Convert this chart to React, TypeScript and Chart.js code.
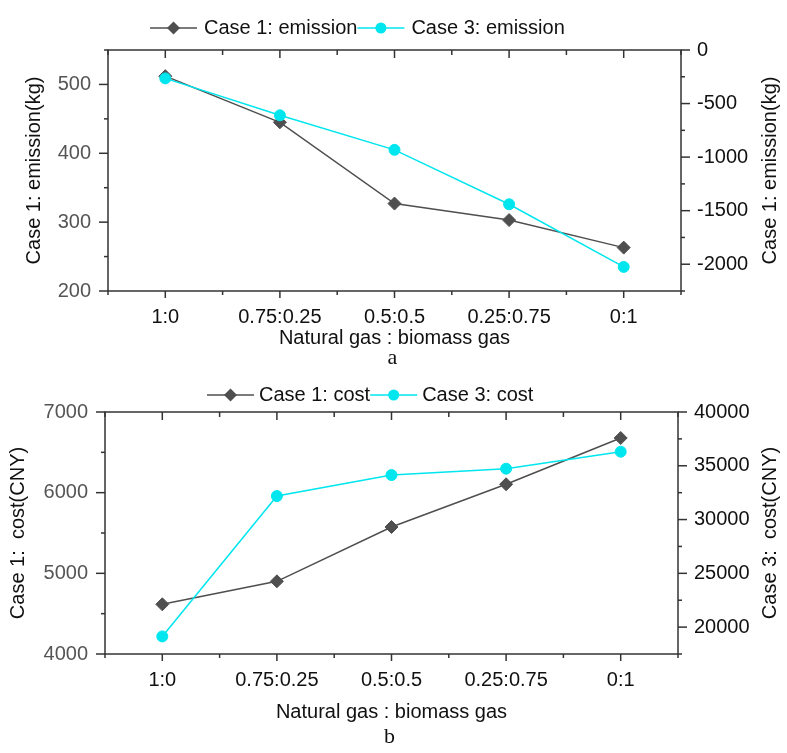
import React, { useEffect, useRef } from 'react';
import { Chart, registerables } from 'chart.js';

Chart.register(...registerables);

// ---------- data ----------
const categories = ['1:0', '0.75:0.25', '0.5:0.5', '0.25:0.75', '0:1'];
const case1Emission = [512, 445, 327, 303, 263];
const case3Emission = [-265, -610, -932, -1440, -2025];
const case1Cost = [4616, 4901, 5574, 6104, 6678];
const case3Cost = [19135, 32186, 34140, 34729, 36310];

const emissionLeftRange = [200, 550, 100];
const emissionRightRange = [-2250, 0, 500];
const costLeftRange = [4000, 7000, 1000];
const costRightRange = [17500, 40000, 5000];

const emissionLeftTicks = [200, 300, 400, 500];
const emissionRightTicks = [-2000, -1500, -1000, -500, 0];
const costLeftTicks = [4000, 5000, 6000, 7000];
const costRightTicks = [20000, 25000, 30000, 35000, 40000];

const xTitle = 'Natural gas : biomass gas';

// ---------- style ----------
const FONT = '"Liberation Sans", Arial, sans-serif';
const SERIF = '"Liberation Serif", "Times New Roman", serif';
const FS = 20;
const AXIS = '#333333';
const GRAY = '#4f4f4f';
const CYAN = '#00e6ef';

type Series = { label: string; data: number[]; color: string; style: 'rectRot' | 'circle'; radius: number; axis: string; order: number };
type Panel = {
  top: number; height: number; padTop: number; padBottom: number;
  leftW: number; rightW: number; xH: number;
  leftTitle: string; leftTitlePad: number; rightTitle: string; rightTitleX: number;
  legendX: number; legendY: number; legendGap: number;
  caption: string; captionY: number;
  series: Series[];
  yl: number[]; yr: number[]; ylTicks: number[]; yrTicks: number[];
};

const panels: Panel[] = [
  {
    top: 0, height: 370, padTop: 50, padBottom: 20, leftW: 108, rightW: 106, xH: 59,
    leftTitle: 'Case 1: emission(kg)', leftTitlePad: 22, rightTitle: 'Case 1: emission(kg)', rightTitleX: 770,
    legendX: 150, legendY: 28, legendGap: 7,
    caption: 'a', captionY: 364,
    series: [
      { label: 'Case 1: emission', data: case1Emission, color: GRAY, style: 'rectRot', radius: 6.5, axis: 'yL', order: 1 },
      { label: 'Case 3: emission', data: case3Emission, color: CYAN, style: 'circle', radius: 5.5, axis: 'yR', order: 0 },
    ],
    yl: emissionLeftRange, yr: emissionRightRange, ylTicks: emissionLeftTicks, yrTicks: emissionRightTicks,
  },
  {
    top: 370, height: 383, padTop: 42, padBottom: 29, leftW: 105, rightW: 109, xH: 70,
    leftTitle: 'Case 1:  cost(CNY)', leftTitlePad: 6, rightTitle: 'Case 3:  cost(CNY)', rightTitleX: 770,
    legendX: 207, legendY: 25, legendGap: 5,
    caption: 'b', captionY: 373,
    series: [
      { label: 'Case 1: cost', data: case1Cost, color: GRAY, style: 'rectRot', radius: 6.5, axis: 'yL', order: 1 },
      { label: 'Case 3: cost', data: case3Cost, color: CYAN, style: 'circle', radius: 5.5, axis: 'yR', order: 0 },
    ],
    yl: costLeftRange, yr: costRightRange, ylTicks: costLeftTicks, yrTicks: costRightTicks,
  },
];

function drawMarker(ctx: CanvasRenderingContext2D, s: Series, x: number, y: number) {
  ctx.fillStyle = s.color;
  ctx.beginPath();
  if (s.style === 'circle') {
    ctx.arc(x, y, s.radius, 0, Math.PI * 2);
  } else {
    const r = s.radius;
    ctx.moveTo(x, y - r);
    ctx.lineTo(x + r, y);
    ctx.lineTo(x, y + r);
    ctx.lineTo(x - r, y);
    ctx.closePath();
  }
  ctx.fill();
}

function makeDecor(p: Panel) {
  return {
    id: 'decor',
    afterDraw(chart: any) {
      const ctx: CanvasRenderingContext2D = chart.ctx;
      const { left, right, top, bottom } = chart.chartArea;
      const xs = chart.scales.x, yl = chart.scales.yL, yr = chart.scales.yR;
      ctx.save();
      ctx.strokeStyle = AXIS;
      ctx.lineWidth = 1.5;
      ctx.strokeRect(left, top, right - left, bottom - top);
      const line = (x1: number, y1: number, x2: number, y2: number) => {
        ctx.beginPath(); ctx.moveTo(x1, y1); ctx.lineTo(x2, y2); ctx.stroke();
      };
      const n = categories.length;
      for (let i = 0; i < n; i++) {
        const px = xs.getPixelForValue(i);
        line(px, bottom, px, bottom + 7);
        line(px, top, px, top + 8);
      }
      for (let i = 0; i <= n; i++) {
        const px = xs.getPixelForValue(i - 0.5);
        line(px, bottom, px, bottom + 4);
        line(px, top, px, top + 5);
      }
      const yTicks = (sc: any, dir: number, edge: number, step: number) => {
        sc.ticks.forEach((t: any) => {
          const py = sc.getPixelForValue(t.value);
          line(edge, py, edge + dir * 9, py);
        });
        const first = sc.ticks[0].value;
        for (let v = first - step / 2; v <= sc.max + 1e-9; v += step) {
          if (v < sc.min - 1e-9) continue;
          const py = sc.getPixelForValue(v);
          line(edge, py, edge + dir * 4, py);
        }
      };
      yTicks(yl, -1, left, p.yl[2]);
      yTicks(yr, 1, right, p.yr[2]);

      // right axis title (reads bottom to top)
      ctx.fillStyle = '#111';
      ctx.font = `${FS}px ${FONT}`;
      ctx.save();
      ctx.translate(p.rightTitleX, (top + bottom) / 2);
      ctx.rotate(-Math.PI / 2);
      ctx.textAlign = 'center';
      ctx.textBaseline = 'middle';
      ctx.fillText(p.rightTitle, 0, 0);
      ctx.restore();

      // legend
      let x = p.legendX;
      const y = p.legendY;
      ctx.textAlign = 'left';
      ctx.textBaseline = 'middle';
      p.series.forEach((s) => {
        ctx.strokeStyle = s.color;
        ctx.lineWidth = 1.5;
        line(x, y, x + 47, y);
        drawMarker(ctx, s, x + 23.5, y);
        x += 47 + p.legendGap;
        ctx.fillStyle = '#111';
        ctx.fillText(s.label, x, y);
        x += ctx.measureText(s.label).width;
      });

      // caption
      ctx.font = `22px ${SERIF}`;
      ctx.textAlign = 'center';
      ctx.textBaseline = 'alphabetic';
      ctx.fillStyle = '#111';
      ctx.fillText(p.caption, (left + right) / 2 - 2, p.captionY);
      ctx.restore();
    },
  };
}

function PanelChart({ p }: { p: Panel }) {
  const ref = useRef<HTMLCanvasElement>(null);
  useEffect(() => {
    const fmt = (v: any) => String(v);
    const chart = new Chart(ref.current as HTMLCanvasElement, {
      type: 'line',
      data: {
        labels: categories,
        datasets: p.series.map((s) => ({
          label: s.label,
          data: s.data,
          yAxisID: s.axis,
          order: s.order,
          borderColor: s.color,
          backgroundColor: s.color,
          borderWidth: 1.5,
          pointStyle: s.style,
          pointRadius: s.radius,
          pointBorderWidth: 1,
          pointBackgroundColor: s.color,
          pointBorderColor: s.color,
          tension: 0,
          fill: false,
        })),
      },
      options: {
        responsive: false,
        animation: false,
        events: [],
        layout: { padding: { top: p.padTop, bottom: p.padBottom, left: 0, right: 0 } },
        plugins: { legend: { display: false }, tooltip: { enabled: false } },
        scales: {
          x: {
            type: 'category',
            offset: true,
            grid: { display: false, drawTicks: false },
            border: { display: false },
            ticks: { color: '#111', font: { family: FONT, size: FS }, padding: 14, maxRotation: 0, autoSkip: false },
            title: { display: true, text: xTitle, color: '#111', font: { family: FONT, size: FS }, padding: 0 },
            afterFit: (sc: any) => { sc.height = p.xH; },
          },
          yL: {
            type: 'linear',
            position: 'left',
            min: p.yl[0], max: p.yl[1],
            grid: { display: false, drawTicks: false },
            border: { display: false },
            ticks: { color: '#555', font: { family: FONT, size: FS }, padding: 17, callback: fmt },
            afterBuildTicks: (sc: any) => { sc.ticks = p.ylTicks.map((v) => ({ value: v })); },
            title: { display: true, text: p.leftTitle, color: '#111', font: { family: FONT, size: FS }, padding: { top: p.leftTitlePad, bottom: 0 } },
            afterFit: (sc: any) => { sc.width = p.leftW; },
          },
          yR: {
            type: 'linear',
            position: 'right',
            min: p.yr[0], max: p.yr[1],
            grid: { display: false, drawTicks: false },
            border: { display: false },
            ticks: { color: '#111', font: { family: FONT, size: FS }, padding: 16, callback: fmt },
            afterBuildTicks: (sc: any) => { sc.ticks = p.yrTicks.map((v) => ({ value: v })); },
            title: { display: false },
            afterFit: (sc: any) => { sc.width = p.rightW; },
          },
        },
      } as any,
      plugins: [makeDecor(p)],
    });
    return () => chart.destroy();
  }, [p]);
  return (
    <canvas
      ref={ref}
      width={787}
      height={p.height}
      style={{ position: 'absolute', left: 0, top: p.top, display: 'block', width: 787, height: p.height }}
    />
  );
}

export default function App() {
  return (
    <div style={{ position: 'absolute', left: 0, top: 0, width: 787, height: 753, background: '#fff', overflow: 'hidden' }}>
      {panels.map((p, i) => (
        <PanelChart key={i} p={p} />
      ))}
    </div>
  );
}
